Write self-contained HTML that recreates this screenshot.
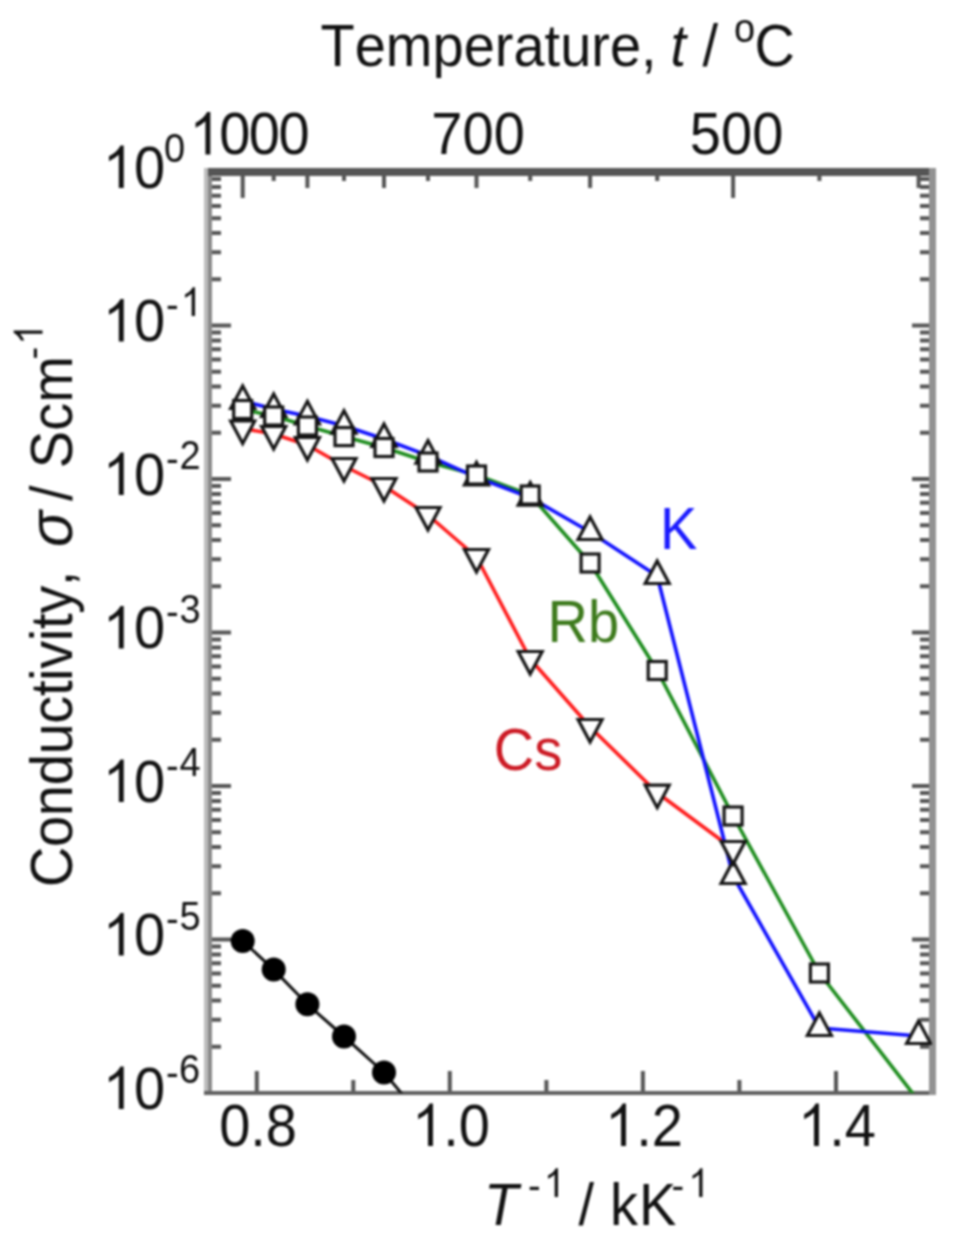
<!DOCTYPE html>
<html><head><meta charset="utf-8">
<style>
html,body{margin:0;padding:0;background:#fff;}
body{width:965px;height:1248px;overflow:hidden;}
svg{display:block;filter:blur(1px);}
text{font-family:"Liberation Sans",sans-serif;fill:#111;}
</style></head>
<body>
<svg width="965" height="1248" viewBox="0 0 965 1248">
<defs><clipPath id="pc"><rect x="208" y="172" width="724" height="921"/></clipPath></defs>
<text x="320.50 354.70 385.84 432.50 463.64 494.78 513.44 544.58 560.14 591.28 609.94 641.08" y="65.50" font-size="56" transform="matrix(1 0 0 1.06 0 -3.43)">Temperature,</text>
<text x="670.50" y="65.50" font-size="56" font-style="italic" transform="matrix(1 0 0 1.06 0 -3.43)">t</text>
<text x="702.50" y="65.50" font-size="56" transform="matrix(1 0 0 1.06 0 -3.43)">/</text>
<text x="734.00" y="41.50" font-size="38" transform="matrix(1 0 0 1.06 0 -1.99)">o</text>
<text x="754.50" y="65.50" font-size="56" transform="matrix(1 0 0 1.06 0 -3.43)">C</text>
<text x="219.13 248.77 278.41" y="154.00" font-size="56" transform="matrix(1 0 0 1.06 0 -8.74)">000</text><path d="M210.35 154.00L205.43 154.00L205.43 122.64Q200.69 126.56 195.59 128.74L195.59 123.98Q203.49 120.40 207.13 113.90L210.35 113.90Z" transform="matrix(1 0 0 1.06 0 -8.74)" fill="#111"/>
<text x="431.36 462.50 493.64" y="154.00" font-size="56" transform="matrix(1 0 0 1.06 0 -8.74)">700</text>
<text x="689.86 721.00 752.14" y="154.00" font-size="56" transform="matrix(1 0 0 1.06 0 -8.74)">500</text>
<path d="M208 279.3H221M932 279.3H920M208 252.3H221M932 252.3H920M208 233.1H221M932 233.1H920M208 218.2H221M932 218.2H920M208 206.1H221M932 206.1H920M208 195.8H221M932 195.8H920M208 186.9H221M932 186.9H920M208 179.0H221M932 179.0H920M208 432.8H221M932 432.8H920M208 405.8H221M932 405.8H920M208 386.6H221M932 386.6H920M208 371.7H221M932 371.7H920M208 359.6H221M932 359.6H920M208 349.3H221M932 349.3H920M208 340.4H221M932 340.4H920M208 332.5H221M932 332.5H920M208 586.3H221M932 586.3H920M208 559.3H221M932 559.3H920M208 540.1H221M932 540.1H920M208 525.2H221M932 525.2H920M208 513.1H221M932 513.1H920M208 502.8H221M932 502.8H920M208 493.9H221M932 493.9H920M208 486.0H221M932 486.0H920M208 739.8H221M932 739.8H920M208 712.8H221M932 712.8H920M208 693.6H221M932 693.6H920M208 678.7H221M932 678.7H920M208 666.6H221M932 666.6H920M208 656.3H221M932 656.3H920M208 647.4H221M932 647.4H920M208 639.5H221M932 639.5H920M208 893.3H221M932 893.3H920M208 866.3H221M932 866.3H920M208 847.1H221M932 847.1H920M208 832.2H221M932 832.2H920M208 820.1H221M932 820.1H920M208 809.8H221M932 809.8H920M208 800.9H221M932 800.9H920M208 793.0H221M932 793.0H920M208 1046.8H221M932 1046.8H920M208 1019.8H221M932 1019.8H920M208 1000.6H221M932 1000.6H920M208 985.7H221M932 985.7H920M208 973.6H221M932 973.6H920M208 963.3H221M932 963.3H920M208 954.4H221M932 954.4H920M208 946.5H221M932 946.5H920M208 172.0H231M932 172.0H912M208 325.5H231M932 325.5H912M208 479.0H231M932 479.0H912M208 632.5H231M932 632.5H912M208 786.0H231M932 786.0H912M208 939.5H231M932 939.5H912M208 1093.0H231M932 1093.0H912M256.8 1093V1071M449.8 1093V1071M642.9 1093V1071M836.0 1093V1071M353.3 1093V1080M546.4 1093V1080M739.4 1093V1080M242.7 172V198M733.1 172V198M307.4 172V188M384.0 172V188M476.5 172V188M590.1 172V188M918.6 172V188M273.7 172V181M344.0 172V181M428.0 172V181M530.2 172V181M657.2 172V181M819.4 172V181" stroke="#555" stroke-width="4" fill="none"/>
<rect x="204" y="168" width="4" height="927" fill="#bdbdbd"/>
<rect x="208" y="168" width="4" height="927" fill="#8a8a8a"/>
<rect x="208" y="168" width="728" height="8" fill="#555"/>
<rect x="204" y="1091" width="732" height="4" fill="#606060"/>
<rect x="929" y="168" width="7" height="927" fill="#929292"/>
<text x="134.02" y="187.50" font-size="56" transform="matrix(1 0 0 1.06 0 -10.75)">0</text><path d="M123.74 187.50L118.82 187.50L118.82 156.14Q114.08 160.06 108.98 162.24L108.98 157.48Q116.88 153.90 120.52 147.40L123.74 147.40Z" transform="matrix(1 0 0 1.06 0 -10.75)" fill="#111"/>
<text x="164.00" y="162.00" font-size="38" transform="matrix(1 0 0 1.06 0 -9.22)">0</text>
<text x="134.02" y="341.00" font-size="56" transform="matrix(1 0 0 1.06 0 -19.96)">0</text><path d="M123.74 341.00L118.82 341.00L118.82 309.64Q114.08 313.56 108.98 315.74L108.98 310.98Q116.88 307.40 120.52 300.90L123.74 300.90Z" transform="matrix(1 0 0 1.06 0 -19.96)" fill="#111"/>
<text x="166.00" y="318.00" font-size="38" transform="matrix(1 0 0 1.06 0 -18.58)">-</text>
<path d="M195.01 315.50L191.67 315.50L191.67 294.22Q188.45 296.88 184.99 298.36L184.99 295.13Q190.35 292.70 192.82 288.29L195.01 288.29Z" transform="matrix(1 0 0 1.06 0 -18.43)" fill="#111"/>
<text x="134.02" y="494.50" font-size="56" transform="matrix(1 0 0 1.06 0 -29.17)">0</text><path d="M123.74 494.50L118.82 494.50L118.82 463.14Q114.08 467.06 108.98 469.24L108.98 464.48Q116.88 460.90 120.52 454.40L123.74 454.40Z" transform="matrix(1 0 0 1.06 0 -29.17)" fill="#111"/>
<text x="166.00" y="471.50" font-size="38" transform="matrix(1 0 0 1.06 0 -27.79)">-</text>
<text x="179.50" y="469.00" font-size="38" transform="matrix(1 0 0 1.06 0 -27.64)">2</text>
<text x="134.02" y="648.00" font-size="56" transform="matrix(1 0 0 1.06 0 -38.38)">0</text><path d="M123.74 648.00L118.82 648.00L118.82 616.64Q114.08 620.56 108.98 622.74L108.98 617.98Q116.88 614.40 120.52 607.90L123.74 607.90Z" transform="matrix(1 0 0 1.06 0 -38.38)" fill="#111"/>
<text x="166.00" y="625.00" font-size="38" transform="matrix(1 0 0 1.06 0 -37.00)">-</text>
<text x="179.50" y="622.50" font-size="38" transform="matrix(1 0 0 1.06 0 -36.85)">3</text>
<text x="134.02" y="801.50" font-size="56" transform="matrix(1 0 0 1.06 0 -47.59)">0</text><path d="M123.74 801.50L118.82 801.50L118.82 770.14Q114.08 774.06 108.98 776.24L108.98 771.48Q116.88 767.90 120.52 761.40L123.74 761.40Z" transform="matrix(1 0 0 1.06 0 -47.59)" fill="#111"/>
<text x="166.00" y="778.50" font-size="38" transform="matrix(1 0 0 1.06 0 -46.21)">-</text>
<text x="179.50" y="776.00" font-size="38" transform="matrix(1 0 0 1.06 0 -46.06)">4</text>
<text x="134.02" y="955.00" font-size="56" transform="matrix(1 0 0 1.06 0 -56.80)">0</text><path d="M123.74 955.00L118.82 955.00L118.82 923.64Q114.08 927.56 108.98 929.74L108.98 924.98Q116.88 921.40 120.52 914.90L123.74 914.90Z" transform="matrix(1 0 0 1.06 0 -56.80)" fill="#111"/>
<text x="166.00" y="932.00" font-size="38" transform="matrix(1 0 0 1.06 0 -55.42)">-</text>
<text x="179.50" y="929.50" font-size="38" transform="matrix(1 0 0 1.06 0 -55.27)">5</text>
<text x="134.02" y="1108.50" font-size="56" transform="matrix(1 0 0 1.06 0 -66.01)">0</text><path d="M123.74 1108.50L118.82 1108.50L118.82 1077.14Q114.08 1081.06 108.98 1083.24L108.98 1078.48Q116.88 1074.90 120.52 1068.40L123.74 1068.40Z" transform="matrix(1 0 0 1.06 0 -66.01)" fill="#111"/>
<text x="166.00" y="1085.50" font-size="38" transform="matrix(1 0 0 1.06 0 -64.63)">-</text>
<text x="179.00" y="1083.00" font-size="38" transform="matrix(1 0 0 1.06 0 -64.48)">6</text>
<text x="219.15 250.29 265.85" y="1145.50" font-size="56" transform="matrix(1 0 0 1.06 0 -68.23)">0.8</text>
<text x="443.24 458.80" y="1145.50" font-size="56" transform="matrix(1 0 0 1.06 0 -68.23)">.0</text><path d="M432.96 1145.50L428.04 1145.50L428.04 1114.14Q423.30 1118.06 418.20 1120.24L418.20 1115.48Q426.10 1111.90 429.74 1105.40L432.96 1105.40Z" transform="matrix(1 0 0 1.06 0 -68.23)" fill="#111"/>
<text x="636.24 651.80" y="1145.50" font-size="56" transform="matrix(1 0 0 1.06 0 -68.23)">.2</text><path d="M625.96 1145.50L621.04 1145.50L621.04 1114.14Q616.30 1118.06 611.20 1120.24L611.20 1115.48Q619.10 1111.90 622.74 1105.40L625.96 1105.40Z" transform="matrix(1 0 0 1.06 0 -68.23)" fill="#111"/>
<text x="829.24 844.80" y="1145.50" font-size="56" transform="matrix(1 0 0 1.06 0 -68.23)">.4</text><path d="M818.96 1145.50L814.04 1145.50L814.04 1114.14Q809.30 1118.06 804.20 1120.24L804.20 1115.48Q812.10 1111.90 815.74 1105.40L818.96 1105.40Z" transform="matrix(1 0 0 1.06 0 -68.23)" fill="#111"/>
<text x="484.00" y="1224.50" font-size="56" font-style="italic" transform="matrix(1 0 0 1.06 0 -72.97)">T</text>
<text x="528.00" y="1198.50" font-size="38" transform="matrix(1 0 0 1.06 0 -71.41)">-</text>
<path d="M558.01 1196.50L554.67 1196.50L554.67 1175.22Q551.45 1177.88 547.99 1179.36L547.99 1176.13Q553.35 1173.70 555.82 1169.29L558.01 1169.29Z" transform="matrix(1 0 0 1.06 0 -71.29)" fill="#111"/>
<text x="578.50" y="1224.50" font-size="56" transform="matrix(1 0 0 1.06 0 -72.97)">/</text>
<text x="610.00" y="1224.50" font-size="56" transform="matrix(1 0 0 1.06 0 -72.97)">k</text>
<text x="639.00" y="1224.50" font-size="56" transform="matrix(1 0 0 1.06 0 -72.97)">K</text>
<text x="671.50" y="1198.50" font-size="38" transform="matrix(1 0 0 1.06 0 -71.41)">-</text>
<path d="M702.51 1196.50L699.17 1196.50L699.17 1175.22Q695.95 1177.88 692.49 1179.36L692.49 1176.13Q697.85 1173.70 700.32 1169.29L702.51 1169.29Z" transform="matrix(1 0 0 1.06 0 -71.29)" fill="#111"/>
<g transform="translate(71,887) rotate(-90)"><text x="0.00 40.09 70.88 101.67 132.46 163.25 190.90 206.11 218.20 245.85 257.94 273.15 300.80" y="0.00" font-size="56" transform="matrix(1 0 0 1.06 0 0.50)">Conductivity,</text><text x="340.00" y="0.00" font-size="60" font-style="italic" transform="matrix(1 0 0 1.06 0 0.50)">σ</text><text x="386.00" y="0.00" font-size="56" transform="matrix(1 0 0 1.06 0 0.50)">/</text><text x="418.82 456.18 484.18" y="0.00" font-size="56" transform="matrix(1 0 0 1.06 0 0.50)">Scm</text><text x="527.50" y="-26.00" font-size="38" transform="matrix(1 0 0 1.06 0 2.06)">-</text><path d="M556.51 -29.00L553.17 -29.00L553.17 -50.28Q549.95 -47.62 546.49 -46.14L546.49 -49.37Q551.85 -51.80 554.32 -56.21L556.51 -56.21Z" transform="matrix(1 0 0 1.06 0 2.24)" fill="#111"/></g>
<g clip-path="url(#pc)">
<polyline points="242.7,941.0 273.7,969.6 307.4,1004.3 344.0,1036.5 384.0,1072.5 428.0,1125.0" fill="none" stroke="#111" stroke-width="3" stroke-linejoin="round"/>
<polyline points="242.7,428.5 273.7,434.0 307.4,445.0 344.0,466.0 384.0,486.0 428.0,515.0 476.5,557.0 530.2,659.0 590.1,727.0 657.2,792.7 733.1,849.0" fill="none" stroke="#ff1c1c" stroke-width="3.6" stroke-linejoin="round"/>
<polyline points="242.7,409.5 273.7,416.0 307.4,426.0 344.0,436.6 384.0,447.5 428.0,462.0 476.5,475.0 530.2,495.0 590.1,563.0 657.2,670.5 733.1,816.0 819.4,973.0 918.6,1101.0" fill="none" stroke="#1d8c1d" stroke-width="3.6" stroke-linejoin="round"/>
<polyline points="242.7,401.0 273.7,409.0 307.4,416.3 344.0,425.7 384.0,439.0 428.0,455.6 476.5,477.4 530.2,497.6 590.1,532.0 657.2,576.0 733.1,876.0 819.4,1028.0 918.6,1036.0" fill="none" stroke="#1010ff" stroke-width="3.6" stroke-linejoin="round"/>
<circle cx="242.7" cy="941.0" r="12" fill="#000"/><circle cx="273.7" cy="969.6" r="12" fill="#000"/><circle cx="307.4" cy="1004.3" r="12" fill="#000"/><circle cx="344.0" cy="1036.5" r="12" fill="#000"/><circle cx="384.0" cy="1072.5" r="12" fill="#000"/><g fill="#fff" stroke="#151515" stroke-width="3.2" stroke-linejoin="miter"><path d="M242.7 386.0L254.7 408.5H230.7Z"/><path d="M273.7 394.0L285.7 416.5H261.7Z"/><path d="M307.4 401.3L319.4 423.8H295.4Z"/><path d="M344.0 410.7L356.0 433.2H332.0Z"/><path d="M384.0 424.0L396.0 446.5H372.0Z"/><path d="M428.0 440.6L440.0 463.1H416.0Z"/><path d="M476.5 462.4L488.5 484.9H464.5Z"/><path d="M530.2 482.6L542.2 505.1H518.2Z"/><path d="M590.1 517.0L602.1 539.5H578.1Z"/><path d="M657.2 561.0L669.2 583.5H645.2Z"/><path d="M733.1 861.0L745.1 883.5H721.1Z"/><path d="M819.4 1013.0L831.4 1035.5H807.4Z"/><path d="M918.6 1021.0L930.6 1043.5H906.6Z"/><rect x="233.7" y="400.5" width="18" height="18"/><rect x="264.7" y="407.0" width="18" height="18"/><rect x="298.4" y="417.0" width="18" height="18"/><rect x="335.0" y="427.6" width="18" height="18"/><rect x="375.0" y="438.5" width="18" height="18"/><rect x="419.0" y="453.0" width="18" height="18"/><rect x="467.5" y="466.0" width="18" height="18"/><rect x="521.2" y="486.0" width="18" height="18"/><rect x="581.1" y="554.0" width="18" height="18"/><rect x="648.2" y="661.5" width="18" height="18"/><rect x="724.1" y="807.0" width="18" height="18"/><rect x="810.4" y="964.0" width="18" height="18"/><path d="M242.7 443.5L254.7 421.0H230.7Z"/><path d="M273.7 449.0L285.7 426.5H261.7Z"/><path d="M307.4 460.0L319.4 437.5H295.4Z"/><path d="M344.0 481.0L356.0 458.5H332.0Z"/><path d="M384.0 501.0L396.0 478.5H372.0Z"/><path d="M428.0 530.0L440.0 507.5H416.0Z"/><path d="M476.5 572.0L488.5 549.5H464.5Z"/><path d="M530.2 674.0L542.2 651.5H518.2Z"/><path d="M590.1 742.0L602.1 719.5H578.1Z"/><path d="M657.2 807.7L669.2 785.2H645.2Z"/><path d="M733.1 864.0L745.1 841.5H721.1Z"/></g>
</g>
<text x="660.00" y="549.00" font-size="56" transform="matrix(1 0 0 1.06 0 -32.44)" style="fill:#1a1aff">K</text>
<text x="547.48 587.92" y="642.00" font-size="56" transform="matrix(1 0 0 1.06 0 -38.02)" style="fill:#3d7a1c">Rb</text>
<text x="493.78 534.22" y="769.50" font-size="56" transform="matrix(1 0 0 1.06 0 -45.67)" style="fill:#cc1a24">Cs</text>
</svg>
</body></html>
